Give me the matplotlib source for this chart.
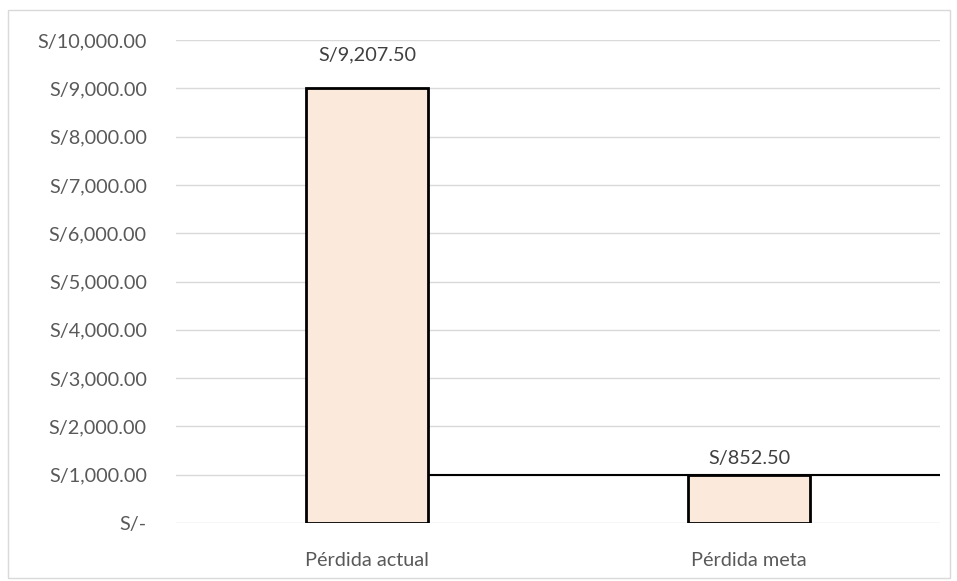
import matplotlib
matplotlib.use("Agg")
import matplotlib.pyplot as plt
from matplotlib.patches import Rectangle
from matplotlib.ticker import FuncFormatter, MultipleLocator

categories = ["Pérdida actual", "Pérdida meta"]
bar_heights = [9000, 1000]
label_values = [9207.50, 852.50]
target_value = 1000

plt.rcParams['font.family'] = ['Lato', 'DejaVu Sans']
TXT = '#595959'
FS = 14.3

fig = plt.figure(figsize=(9.57, 5.81), dpi=100)
ax = fig.add_axes([176/957, 1-523/581, (940-176)/957, (523-40)/581])

x = list(range(len(categories)))
bw = 0.317
ax.bar(x, bar_heights, width=bw, color='#FBE9DB', edgecolor='black', linewidth=2.0, zorder=3)
ax.hlines(target_value, x[0] + bw/2, 1.5, color='black', linewidth=1.5, zorder=2)

def fmt(v):
    if v == 0:
        return "S/-"
    return "S/{:,.2f}".format(v)

for xi, lv in zip(x, label_values):
    ax.annotate(fmt(lv), (xi, lv), xytext=(0, 17), textcoords='offset points',
                ha='center', va='center', fontsize=FS, color='#404040')

ax.set_xlim(-0.5, 1.5)
ax.set_ylim(0, 10000)
ax.yaxis.set_major_locator(MultipleLocator(1000))
ax.yaxis.set_major_formatter(FuncFormatter(lambda v, p: fmt(v)))
ax.set_xticks(x)
ax.set_xticklabels(categories)
ax.tick_params(axis='y', length=0, pad=21, labelsize=FS, labelcolor=TXT)
ax.tick_params(axis='x', length=0, pad=21, labelsize=FS, labelcolor=TXT)
ax.grid(axis='y', color='#D9D9D9', linewidth=1, zorder=0)
ax.set_axisbelow(True)
for s in ax.spines.values():
    s.set_visible(False)

fig.patches.append(Rectangle((8/957, 1-578/581), (950-8)/957, (578-10)/581,
                             transform=fig.transFigure, fill=False,
                             edgecolor='#D9D9D9', linewidth=1))
fig.savefig("out.png", dpi=100)
